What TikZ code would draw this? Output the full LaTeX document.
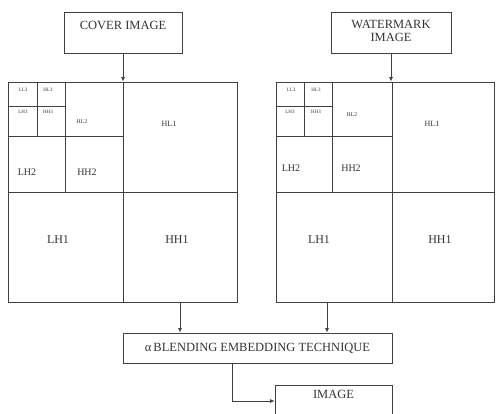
\documentclass[tikz,border=0pt]{standalone}
\usepackage{fontspec}
\setmainfont{Liberation Serif}
\usetikzlibrary{arrows.meta}
\begin{document}
\begin{tikzpicture}[x=1pt,y=-1pt,
  ln/.style={draw=black!75,line width=0.8pt},
  box/.style={ln,rectangle,inner sep=0pt},
  arr/.style={ln,-{Latex[length=4.5pt,width=4pt]}},
  lbl/.style={inner sep=0pt,text=black!80},
  tiny/.style={lbl,font=\fontsize{5}{5}\selectfont},
  sm/.style={lbl,font=\fontsize{5.8}{6}\selectfont},
  md/.style={lbl,font=\fontsize{8}{9}\selectfont},
  lg/.style={lbl,font=\fontsize{10}{11}\selectfont},
  xl/.style={lbl,font=\fontsize{12}{13}\selectfont},
  ttl/.style={lbl,font=\fontsize{12.5}{15}\selectfont,align=center}]
\useasboundingbox (0,0) rectangle (499,414);
% top boxes
\node[box,minimum width=118pt,minimum height=41pt] (cover) at (123,32.5) {};
\node[ttl] (covertxt) at (123,25) {COVER IMAGE};
\node[box,minimum width=120pt,minimum height=41pt] (wm) at (391,32.5) {};
\node[ttl] (wmtxt) at (391,31) {WATERMARK\\[-2pt]IMAGE};
% left grid
\node[box,minimum width=229pt,minimum height=220pt] (lgrid) at (122.5,192) {};
\draw[ln] (123,82) -- (123,302);
\draw[ln] (8,192) -- (237,192);
\draw[ln] (65,82) -- (65,192);
\draw[ln] (8,136) -- (123,136);
\draw[ln] (37,82) -- (37,136);
\draw[ln] (8,106) -- (65,106);
\node[tiny] (lll3) at (23,90) {LL3};
\node[tiny] (lhl3) at (48,90) {HL3};
\node[tiny] (llh3) at (23,112) {LH3};
\node[tiny] (lhh3) at (48,112) {HH3};
\node[sm] (lhl2) at (82,122) {HL2};
\node[md] (lhl1) at (169,124) {HL1};
\node[lg] (llh2) at (27,172) {LH2};
\node[lg] (lhh2) at (87,172) {HH2};
\node[xl] (llh1) at (58,240) {LH1};
\node[xl] (lhh1) at (177,240) {HH1};
% right grid
\node[box,minimum width=218pt,minimum height=220pt] (rgrid) at (385,192) {};
\draw[ln] (392,82) -- (392,302);
\draw[ln] (276,192) -- (494,192);
\draw[ln] (332,82) -- (332,192);
\draw[ln] (276,136) -- (392,136);
\draw[ln] (304,82) -- (304,136);
\draw[ln] (276,106) -- (332,106);
\node[tiny] (rll3) at (291,90) {LL3};
\node[tiny] (rhl3) at (316,90) {HL3};
\node[tiny] (rlh3) at (290,112) {LH3};
\node[tiny] (rhh3) at (316,112) {HH3};
\node[sm] (rhl2) at (352,115) {HL2};
\node[md] (rhl1) at (432,124) {HL1};
\node[lg] (rlh2) at (291,168) {LH2};
\node[lg] (rhh2) at (351,168) {HH2};
\node[xl] (rlh1) at (319,240) {LH1};
\node[xl] (rhh1) at (440,240) {HH1};
% blending and output
\node[box,minimum width=269pt,minimum height=30pt] (blend) at (257.5,348) {};
\node[ttl] (blendtxt) at (257.5,348) {α\,BLENDING EMBEDDING TECHNIQUE};
\node[box,minimum width=117pt,minimum height=32pt] (img) at (333.5,401) {};
\node[ttl] (imgtxt) at (333.5,394) {IMAGE};
% connectors
\draw[arr] (cover.south) -- (cover.south |- lgrid.north);
\draw[arr] (wm.south) -- (wm.south |- rgrid.north);
\coordinate (la) at (180,302);
\coordinate (ra) at (327,302);
\draw[arr] (la) -- (la |- blend.north);
\draw[arr] (ra) -- (ra |- blend.north);
\coordinate (ob) at (232,363);
\draw[arr] (ob) |- (img.west);
\end{tikzpicture}
\end{document}
